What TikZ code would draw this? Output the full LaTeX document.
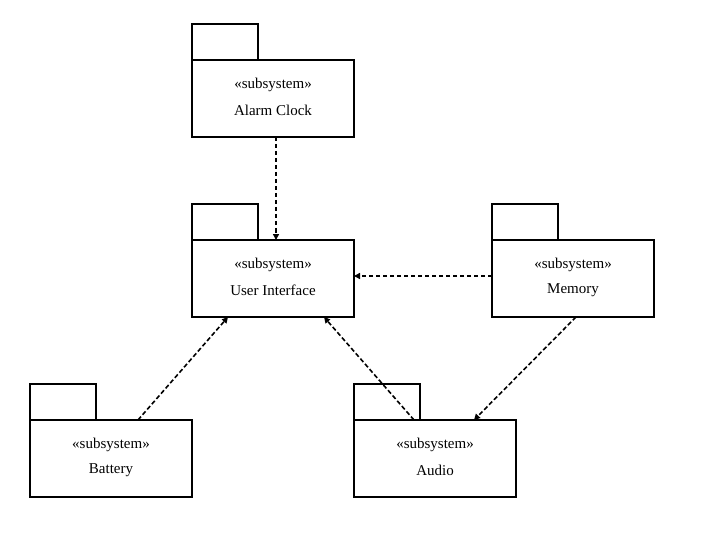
\documentclass[tikz,border=0pt]{standalone}
\usepackage{fontspec}
\setmainfont{Liberation Serif}
\usetikzlibrary{arrows.meta}
\begin{document}
\begin{tikzpicture}[x=1pt,y=-1pt,
  pkgline/.style={draw=black,line width=1.8pt,fill=white},
  dep/.style={draw=black,line width=1.6pt,dash pattern=on 4.5pt off 2.5pt,-{Triangle[length=6pt,width=6pt]}},
  lbl/.style={font=\fontsize{15}{18}\selectfont,inner sep=0pt}]
\useasboundingbox (0,0) rectangle (720,540);
\foreach \nm/\x/\y/\txt in {ac/192/24/Alarm Clock, ui/192/204/User Interface, mem/492/204/Memory, bat/30/384/Battery, aud/354/384/Audio}{
  \draw[pkgline] (\x,\y) rectangle ++(66,36);
  \draw[pkgline] (\x,\y+36) rectangle ++(162,77);
  \node[lbl] at (\x+81,\y+61) {«subsystem»};
  \node[lbl] at (\x+81,\y+86) {\txt};
}
\coordinate (acB) at (276,137);
\coordinate (uiT) at (276,240);
\coordinate (memL) at (492,276);
\coordinate (uiR) at (354,276);
\coordinate (batT) at (138,420);
\coordinate (uiBL) at (228,317);
\coordinate (audT) at (414,420);
\coordinate (uiBR) at (324,317);
\coordinate (memB) at (576,317);
\coordinate (audT2) at (474,420);
\draw[dep] (acB) -- (uiT);
\draw[dep] (memL) -- (uiR);
\draw[dep] (batT) -- (uiBL);
\draw[dep] (audT) -- (uiBR);
\draw[dep] (memB) -- (audT2);
\end{tikzpicture}
\end{document}
